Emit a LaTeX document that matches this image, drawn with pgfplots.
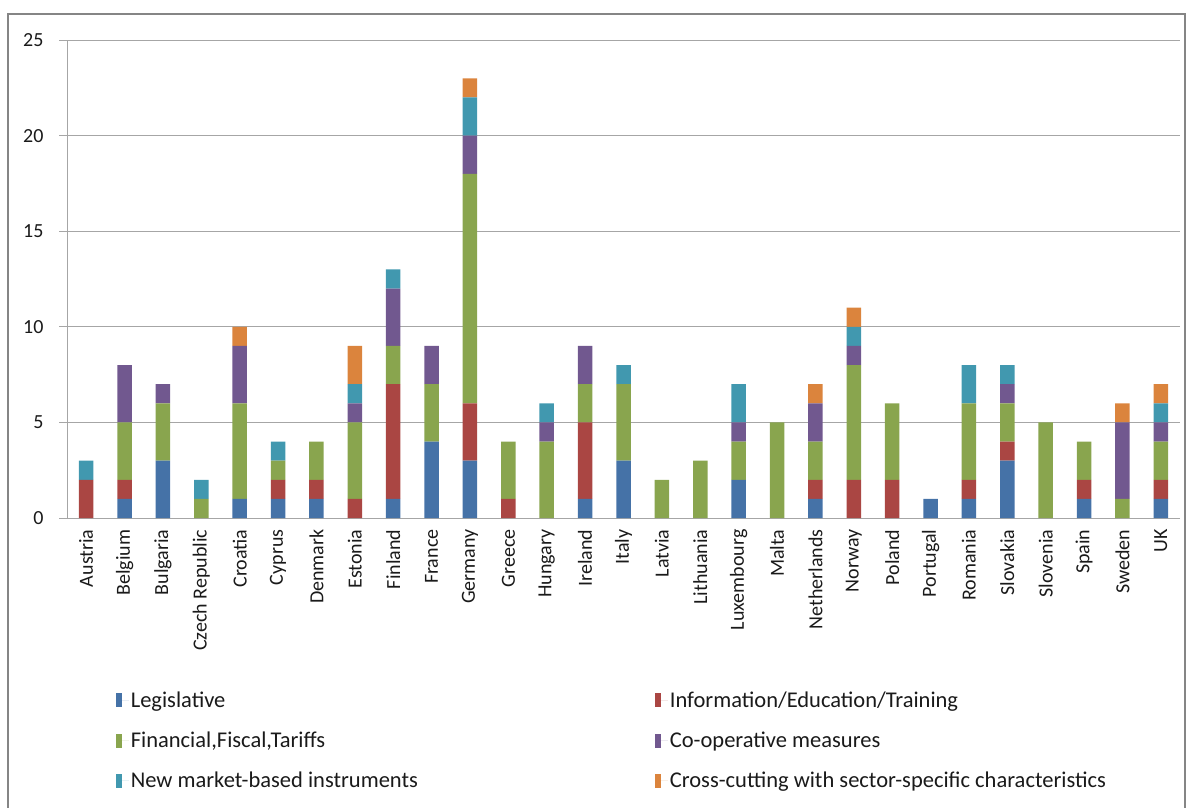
\documentclass[border=0pt]{standalone}
\usepackage{fontspec}
\setmainfont{Carlito}
\usepackage{pgfplots}
\pgfplotsset{compat=1.18}
\usepackage{pgfplotstable}

\definecolor{cL}{HTML}{4572A7}
\definecolor{cI}{HTML}{AA4643}
\definecolor{cF}{HTML}{89A54E}
\definecolor{cC}{HTML}{71588F}
\definecolor{cN}{HTML}{4198AF}
\definecolor{cX}{HTML}{DB843D}
\definecolor{gridc}{HTML}{A6A6A6}
\definecolor{txt}{HTML}{1A1A1A}

\pgfplotstableread{
x L I F C N X
0  0 2 0 0 1 0
1  1 1 3 3 0 0
2  3 0 3 1 0 0
3  0 0 1 0 1 0
4  1 0 5 3 0 1
5  1 1 1 0 1 0
6  1 1 2 0 0 0
7  0 1 4 1 1 2
8  1 6 2 3 1 0
9  4 0 3 2 0 0
10 3 3 12 2 2 1
11 0 1 3 0 0 0
12 0 0 4 1 1 0
13 1 4 2 2 0 0
14 3 0 4 0 1 0
15 0 0 2 0 0 0
16 0 0 3 0 0 0
17 2 0 2 1 2 0
18 0 0 5 0 0 0
19 1 1 2 2 0 1
20 0 2 6 1 1 1
21 0 2 4 0 0 0
22 1 0 0 0 0 0
23 1 1 4 0 2 0
24 3 1 2 1 1 0
25 0 0 5 0 0 0
26 1 1 2 0 0 0
27 0 0 1 4 0 1
28 1 1 2 1 1 1
}\data

\begin{document}
\begin{tikzpicture}
\useasboundingbox (0pt,0pt) rectangle (1189pt,-807pt);
\draw[color=gridc!80!black, line width=1.2pt] (8pt,-14pt) rectangle (1185pt,-820pt);
\begin{axis}[
  at={(67pt,-518pt)}, anchor=south west,
  scale only axis, width=1113pt, height=478pt,
  ybar stacked, bar width=14.5pt,
  xmin=-0.5, xmax=28.5, ymin=0, ymax=25,
  ytick={0,5,...,25},
  ymajorgrids, grid style={gridc, line width=1pt},
  axis x line*=bottom, axis y line*=left,
  axis line style={gridc, line width=1pt},
  xtick=data,
  xticklabels={Austria,Belgium,Bulgaria,Czech Republic,Croatia,Cyprus,Denmark,Estonia,Finland,France,Germany,Greece,Hungary,Ireland,Italy,Latvia,Lithuania,Luxembourg,Malta,Netherlands,Norway,Poland,Portugal,Romania,Slovakia,Slovenia,Spain,Sweden,UK},
  xtick style={draw=none},
  extra x ticks={-0.5,0.5,...,28.5},
  extra x tick labels={},
  extra x tick style={tick style={draw=gridc, line width=1pt}, major tick length=8pt, tick align=outside, grid=none},
  ytick style={draw=gridc, line width=1pt}, major tick length=8pt, tick align=outside,
  ticklabel style={font=\fontsize{20}{24}\selectfont, text=txt},
  /pgf/number format/assume math mode=true,
  xticklabel style={rotate=90, anchor=east, xshift=0pt, yshift=0pt},
  yticklabel style={xshift=-12pt},
  legend columns=2,
  legend cell align=left,
  legend style={draw=none, fill=none, at={(0.041,-0.355)}, anchor=north west,
    font=\fontsize{22.5}{26}\selectfont, text=txt,
    /tikz/every even column/.append style={column sep=235pt},
    row sep=19pt},
  legend image code/.code={\fill[#1] (0pt,-7pt) rectangle (6pt,7pt); \path (0pt,0pt) -- (13pt,0pt);},
  every axis plot/.append style={draw=none},
]
\addplot[fill=cL] table[x=x,y=L]{\data};
\addplot[fill=cI] table[x=x,y=I]{\data};
\addplot[fill=cF] table[x=x,y=F]{\data};
\addplot[fill=cC] table[x=x,y=C]{\data};
\addplot[fill=cN] table[x=x,y=N]{\data};
\addplot[fill=cX] table[x=x,y=X]{\data};
\legend{Legislative,Information/Education/Training,{Financial,Fiscal,Tariffs},Co-operative measures,New market-based instruments,Cross-cutting with sector-specific characteristics}
\end{axis}
\end{tikzpicture}
\end{document}
